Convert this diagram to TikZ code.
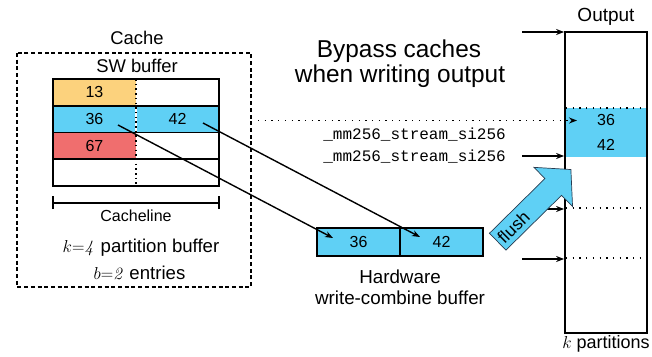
\documentclass[tikz,border=0pt]{standalone}
\usepackage[no-math]{fontspec}
\setmainfont{Liberation Sans}
\setmonofont{Liberation Mono}
\usetikzlibrary{arrows.meta}
\definecolor{cyanb}{RGB}{95,208,245}
\definecolor{orangeb}{RGB}{252,210,125}
\definecolor{redb}{RGB}{240,110,110}
\definecolor{edgeb}{RGB}{40,60,80}
\newcommand{\fs}[1]{\fontsize{#1}{#1}\selectfont}
\begin{document}
\begin{tikzpicture}[x=1pt,y=-1pt,
  rowbox/.style={draw, line width=1.8pt, minimum width=166pt, minimum height=26.75pt, inner sep=0pt},
  num/.style={inner sep=0pt, font=\fs{16}},
  hwcell/.style={draw, fill=cyanb, line width=1.6pt, minimum width=83pt, minimum height=28pt, inner sep=0pt, font=\fs{16}},
  outbox/.style={draw, line width=1.8pt, minimum width=82pt, minimum height=301pt, inner sep=0pt},
  lbl/.style={inner sep=0pt, font=\fs{18.4}, align=center},
  arr/.style={line width=1.4pt, -{Stealth[length=8pt,width=6pt]}},
  dotarr/.style={line width=1.3pt, dash pattern=on 1.3pt off 5.4pt, -{Stealth[length=8pt,width=6pt]}},
  hdots/.style={line width=1.3pt, dash pattern=on 1.3pt off 5.4pt},
  vdots/.style={line width=1.3pt, dash pattern=on 1.5pt off 3.2pt},
  cachebox/.style={draw, line width=1.5pt, dash pattern=on 4pt off 2.7pt}
]
\useasboundingbox (0,0) rectangle (652,356);

% Cache box
\node[lbl] (cachelbl) at (137,38) {Cache};
\draw[cachebox] (17,53) rectangle (251,287);
\node[lbl] (swlbl) at (137,66) {SW buffer};

% SW buffer fills
\fill[orangeb] (53,79) rectangle (136,105.75);
\fill[cyanb] (53,105.75) rectangle (219,132.5);
\fill[redb] (53,132.5) rectangle (136,159.25);
\draw[white, line width=1.3pt] (136,105.75) -- (136,132.5);
\draw[vdots] (136,79) -- (136,186);
\foreach \i/\y in {1/92.375, 2/119.125, 3/145.875, 4/172.625}
  \node[rowbox] (r\i) at (136,\y) {};

\node[num] (s13) at (94.5,92.4) {13};
\node[num] (s36) at (94.5,119.1) {36};
\node[num] (s42) at (177.5,119.1) {42};
\node[num] (s67) at (94.5,145.9) {67};

% Cacheline bracket
\coordinate (cl1) at (53,203);
\coordinate (cl2) at (219,203);
\draw[line width=1.2pt] (cl1) -- (cl2);
\draw[line width=1.2pt] ([yshift=-6pt]cl1) -- ([yshift=7pt]cl1);
\draw[line width=1.2pt] ([yshift=-6pt]cl2) -- ([yshift=7pt]cl2);
\node[lbl, font=\fs{16}] (cltext) at (136,215.5) {Cacheline};
\node[lbl, font=\fs{18.6}] (kpart) at (141,248) {$k{=}\mathit{4}$ partition buffer};
\node[lbl, font=\fs{18.6}] (bent) at (139.5,273) {$b{=}\mathit{2}$ entries};

% Title
\node[lbl, font=\fs{24.4}] (title1) at (399,51) {Bypass caches};
\node[lbl, font=\fs{24.4}] (title2) at (400,76) {when writing output};

% intrinsics
\node[inner sep=0pt, anchor=east, font=\fs{16}\ttfamily] (mm1) at (506,134.5) {\_mm256\_stream\_si256};
\node[inner sep=0pt, anchor=east, font=\fs{16}\ttfamily] (mm2) at (506,156.5) {\_mm256\_stream\_si256};

% Hardware buffer
\node[hwcell] (h36) at (358.5,242) {36};
\node[hwcell] (h42) at (441.5,242) {42};
\node[lbl, font=\fs{18.8}] (hwlbl1) at (400,277) {Hardware};
\node[lbl, font=\fs{18.8}] (hwlbl2) at (400,298) {write-combine buffer};

% arrows SW -> HW
\coordinate (a36) at (118,125);
\coordinate (a42) at (203,123);
\coordinate (e36) at (333,238);
\coordinate (e42) at (420,237);
\draw[arr] (a36) -- (e36);
\draw[arr] (a42) -- (e42);

% Output
\fill[cyanb] (565,108) rectangle (647,157);
\node[outbox] (out) at (606,182.5) {};
\node[lbl, font=\fs{19}] (outlbl) at (606,17) {Output};
\node[lbl, font=\fs{18}] (kp) at (606,343.5) {$k$ partitions};
\draw[hdots] (566,108) -- (647,108);
\draw[hdots] (566,208) -- (647,208);
\draw[hdots] (566,258) -- (647,258);
\node[num] (o36) at (606,120) {36};
\node[num] (o42) at (606,145) {42};

\coordinate (d0) at (258,120.5);
\coordinate (d1) at (577,120.5);
\draw[dotarr] (d0) -- (d1);

\foreach \y/\n in {32/1, 156/2, 209/3, 259/4} {
  \coordinate (o\n) at (522,\y);
  \draw[arr] (o\n) -- (o\n -| out.west);
}

% flush arrow
\begin{scope}[shift={(497.7,241.7)}, rotate=44.6]
  \draw[fill=cyanb, draw=edgeb, line width=0.7pt, line join=miter]
    (0,-11.8) -- (78,-11.8) -- (78,-27.5) -- (102.8,0) -- (78,27.5) -- (78,11.8) -- (0,11.8) -- cycle;
\end{scope}
\node[inner sep=0pt, rotate=44.6, font=\fs{17.5}] (flush) at (513.5,227) {flush};

\end{tikzpicture}
\end{document}
